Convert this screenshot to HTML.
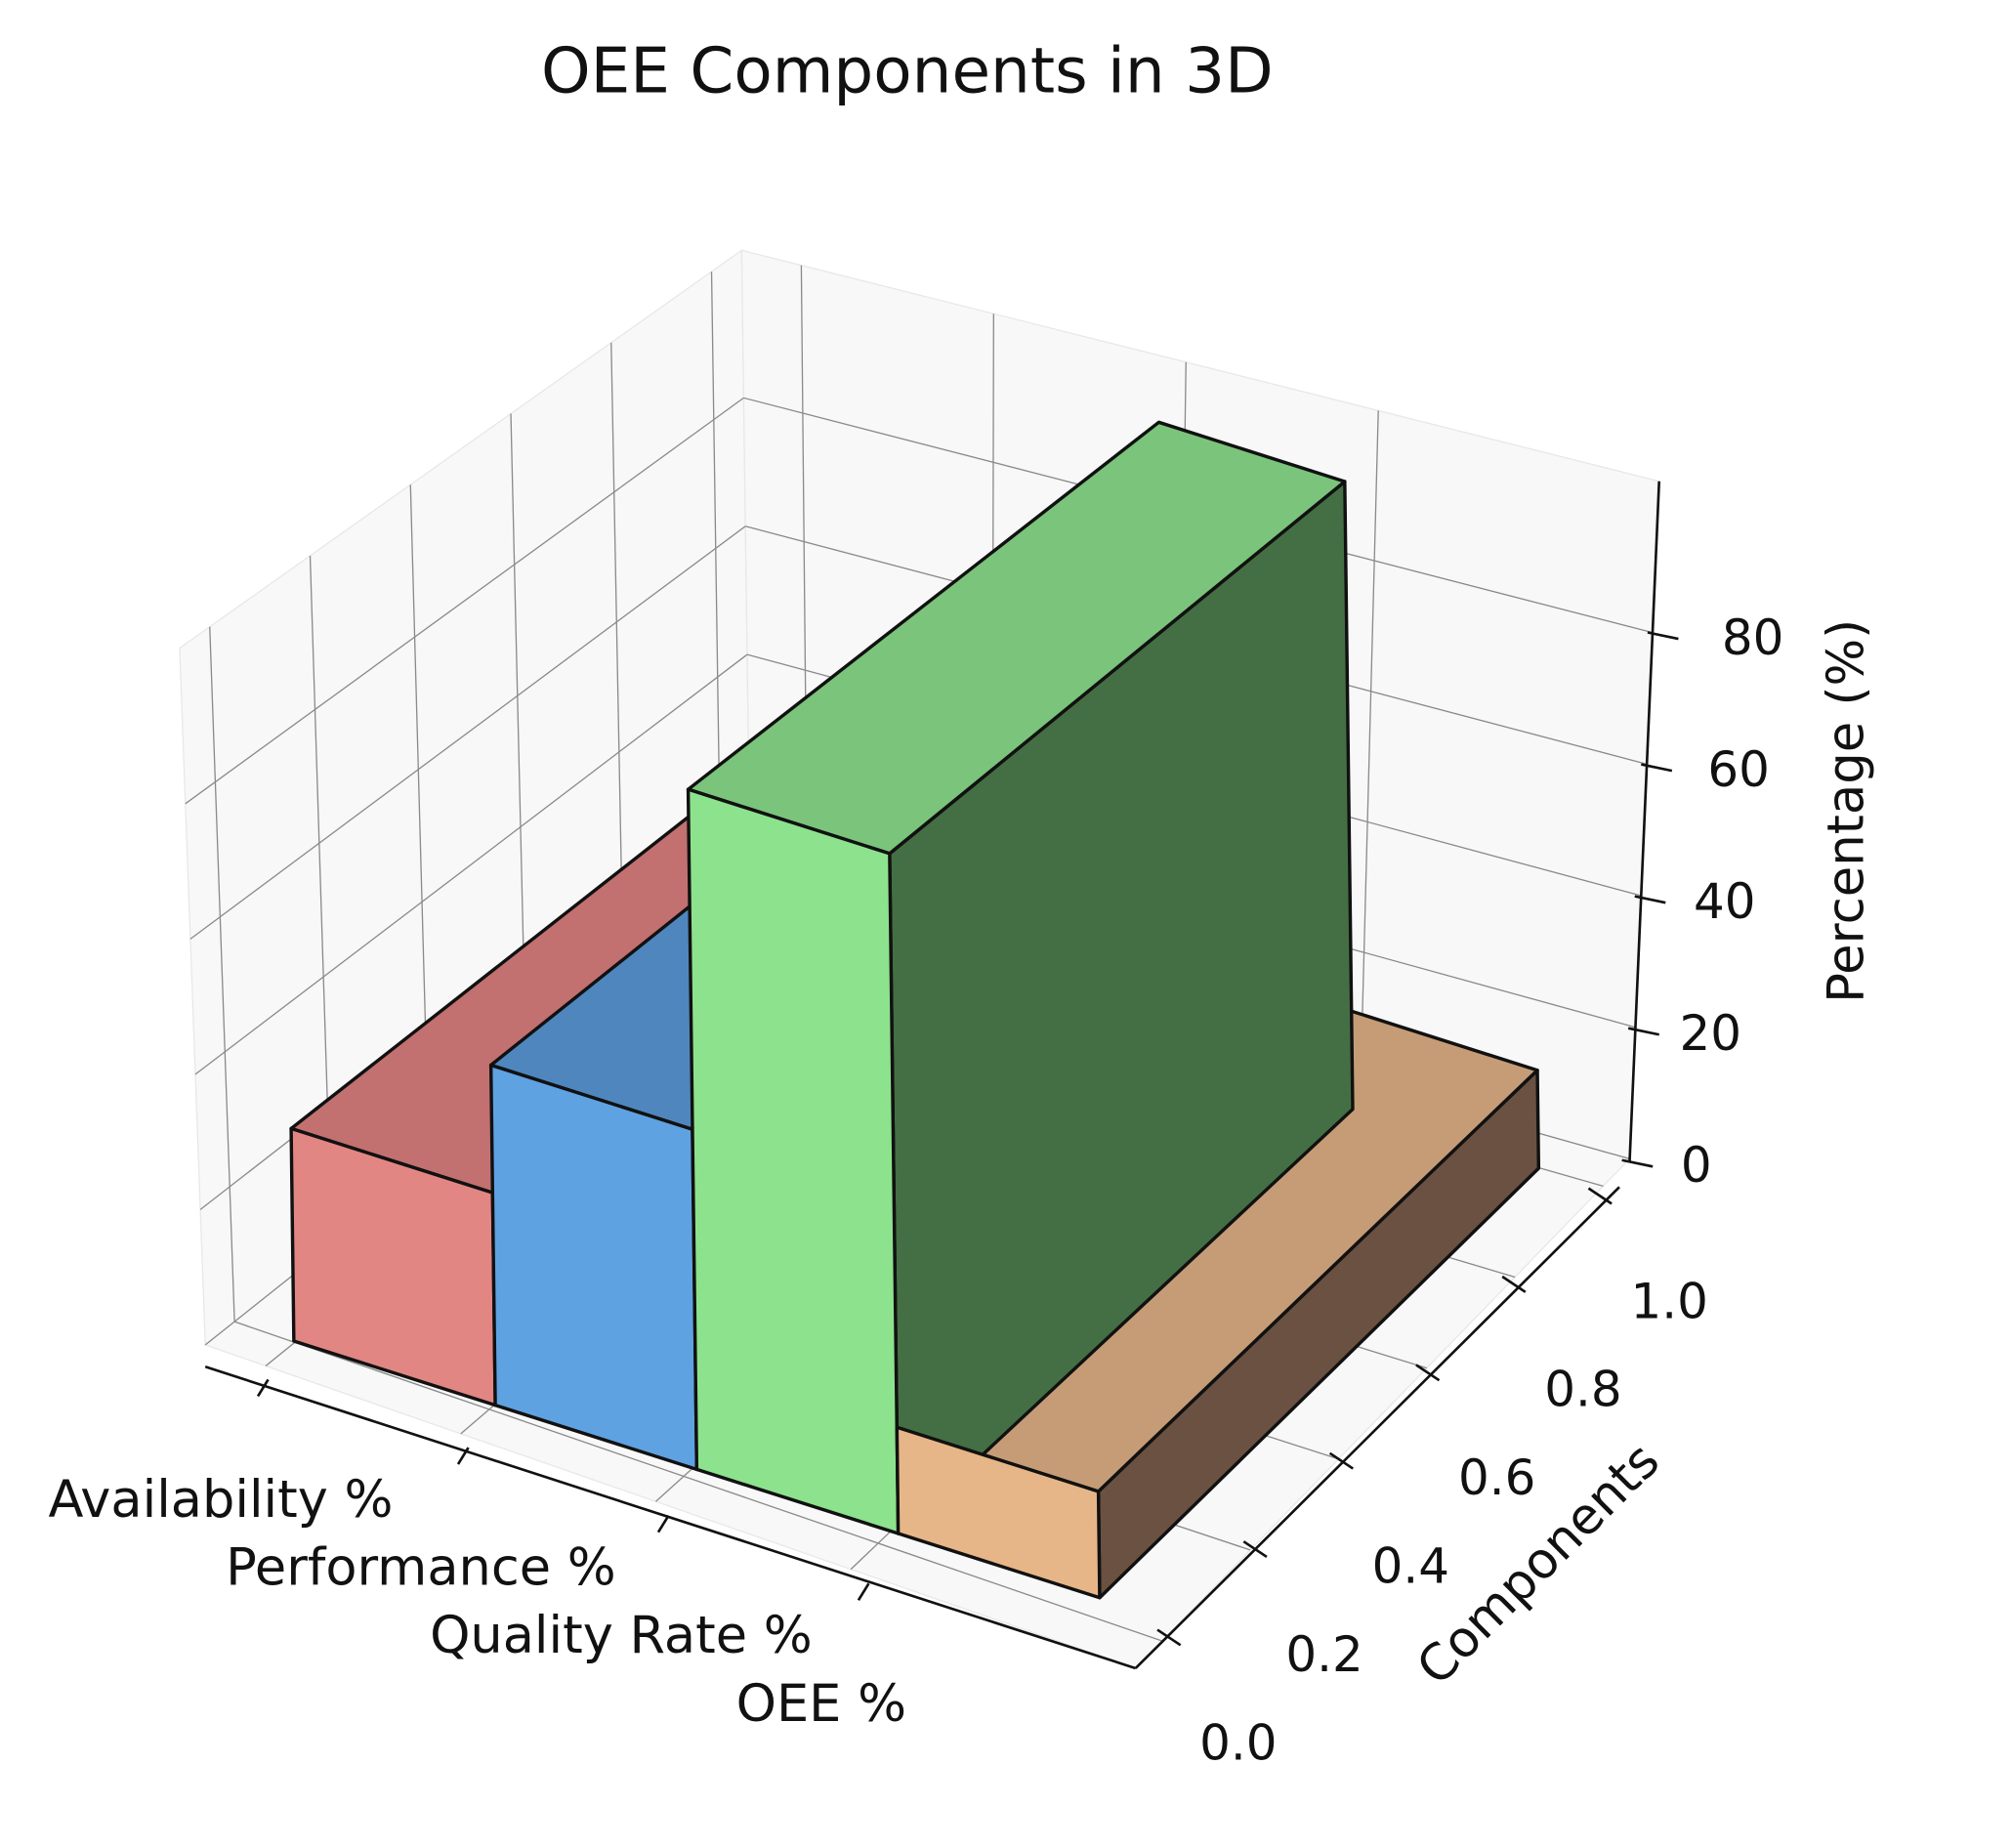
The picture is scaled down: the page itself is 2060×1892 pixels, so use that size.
<!DOCTYPE html>
<html><head><meta charset="utf-8">
<style>
html,body{margin:0;padding:0;background:#fff;}
svg{display:block;font-family:"DejaVu Sans","Liberation Sans",sans-serif;}
</style></head>
<body>
<svg id="chart" width="2060" height="1892" viewBox="0 0 1568 1440" xmlns="http://www.w3.org/2000/svg">
<text x="707" y="72" text-anchor="middle" font-size="49" fill="#111">OEE Components in 3D</text>
<g id="panes"></g>
<g id="grid"></g>
<g id="axes"></g>
<g id="bars"></g>
<text x="0" y="0" transform="translate(1452,632) rotate(-90)" text-anchor="middle" font-size="39" fill="#111">Percentage (%)</text>
<text x="0" y="0" transform="translate(1208,1228) rotate(-45)" text-anchor="middle" font-size="39" fill="#111">Components</text>
</svg>
<script>
const categories = ["Availability %", "Performance %", "Quality Rate %", "OEE %"];
const values = [30, 48, 96, 15];
const zTicks = [0, 20, 40, 60, 80];
const yTicks = [0.0, 0.2, 0.4, 0.6, 0.8, 1.0];
const frontColors = ["#e28684", "#5fa2e2", "#8de28d", "#e6b688"];
const topColors = ["#c27070", "#4f86be", "#7bc47b", "#c69c77"];
const sideColors = ["#8a4c4c", "#365c85", "#446f44", "#6a5141"];

const NS = "http://www.w3.org/2000/svg";
const VP = [5300, -3100];
function proj(x, y, z) {
  const fx = 229 + x * 157 - z * 0.07;
  const fy = 1045 + x * 50 - z * 5.52;
  const s = 0.077 * y;
  return [fx + (VP[0] - fx) * s, fy + (VP[1] - fy) * s];
}
function zAxis(z) { return [1270 + z * 0.25, 905 - z * 5.14]; }
function yAxis(y) { return [908 + y * 336, 1276 - y * 344]; }
function xAxis(i) { return [205 + i * 156, 1080 + i * 53]; }
function bil(q, u, v) {
  const a = q[0], b = q[1], c = q[2], d = q[3];
  return [(1-u)*(1-v)*a[0] + u*(1-v)*b[0] + u*v*c[0] + (1-u)*v*d[0],
          (1-u)*(1-v)*a[1] + u*(1-v)*b[1] + u*v*c[1] + (1-u)*v*d[1]];
}
function el(tag, attrs, parent) {
  const e = document.createElementNS(NS, tag);
  for (const k in attrs) e.setAttribute(k, attrs[k]);
  parent.appendChild(e);
  return e;
}
const pts = a => a.map(p => p[0].toFixed(1) + "," + p[1].toFixed(1)).join(" ");

const leftWall = [[160,1048],[585,710],[578,195],[140,505]];
const backWall = [[585,710],[1270,903],[1293,375],[578,195]];
const floor = [[160,1048],[885,1300],[1270,903],[585,710]];
const floorT = [floor[0], floor[3], floor[2], floor[1]];
const panes = document.getElementById("panes");
[["left-pane",leftWall],["back-pane",backWall],["floor-pane",floor]].forEach(([n,q]) => {
  const p = el("polygon", {points: pts(q), fill: "#f8f8f8", stroke: "#e8e8e8", "stroke-width": 1}, panes);
  
  
});
const grid = document.getElementById("grid");
const ZMAX = 103, YMIN = -0.06, YMAX = 1.06, XMIN = -0.31, XMAX = 4.46;
function gl(a, b, n) {
  const l = el("line", {x1: a[0], y1: a[1], x2: b[0], y2: b[1], stroke: "#8a8a8a", "stroke-width": 1}, grid);
  
  
}
zTicks.forEach(z => {
  const v = z / ZMAX;
  gl(bil(leftWall, 0, v), bil(leftWall, 1, v), "left-grid-z");
  gl(bil(backWall, 0, v), bil(backWall, 1, v), "back-grid-z");
});
yTicks.forEach(y => {
  const u = (y - YMIN) / (YMAX - YMIN);
  gl(bil(leftWall, u, 0), bil(leftWall, u, 1), "left-grid-y");
  gl(bil(floorT, u, 0), bil(floorT, u, 1), "floor-grid-y");
});
categories.forEach((c, i) => {
  const u = (i - XMIN) / (XMAX - XMIN);
  gl(bil(backWall, u, 0), bil(backWall, u, 1), "back-grid-x");
  gl(bil(floor, u, 0), bil(floor, u, 1), "floor-grid-x");
});

const axes = document.getElementById("axes");
function al(a, b, n, w) {
  const l = el("line", {x1: a[0], y1: a[1], x2: b[0], y2: b[1], stroke: "#111", "stroke-width": w || 2}, axes);
  
  
}
al([160,1065],[885,1300],"x-axis-line");
al([885,1300],[1262,925],"y-axis-line");
al([1270,905],[1293,375],"z-axis-line");
categories.forEach((c, i) => {
  const p = xAxis(i);
  al([p[0]+4, p[1]-5], [p[0]-4, p[1]+8], "x-tick");
  const t = el("text", {x: p[0] - 33, y: p[1] + 102, "text-anchor": "middle", "font-size": 40, fill: "#111"}, axes);
  
  
  t.textContent = c;
});
yTicks.forEach(y => {
  const p = yAxis(y);
  al([p[0]-6, p[1]-6], [p[0]+12, p[1]+6], "y-tick");
  const t = el("text", {x: p[0] + 57, y: p[1] + 95, "text-anchor": "middle", "font-size": 38, fill: "#111"}, axes);
  
  
  t.textContent = y.toFixed(1);
});
zTicks.forEach(z => {
  const p = zAxis(z);
  al([p[0]-6, p[1]-1], [p[0]+18, p[1]+4], "z-tick");
  const t = el("text", {x: p[0] + 52 + z * 0.3, y: p[1] + 16, "text-anchor": "middle", "font-size": 38, fill: "#111"}, axes);
  
  
  t.textContent = String(z);
});

// bars
const bars = document.getElementById("bars");
const st = {stroke: "#111", "stroke-width": 2.6, "stroke-linejoin": "round"};
const n = values.length;
function slug(i) { return categories[i].toLowerCase().replace(/[^a-z]+/g, '-').replace(/-$/, ''); }
function faceOf(i, kind) {
  const v = values[i], x0 = i, x1 = i + 1, y0 = 0, y1 = 1;
  if (kind === "top") return [proj(x0,y0,v), proj(x1,y0,v), proj(x1,y1,v), proj(x0,y1,v)];
  if (kind === "side") return [proj(x1,y0,0), proj(x1,y1,0), proj(x1,y1,v), proj(x1,y0,v)];
  return [proj(x0,y0,0), proj(x1,y0,0), proj(x1,y0,v), proj(x0,y0,v)];
}
function face(i, kind, parent) {
  const col = kind === "top" ? topColors[i] : kind === "side" ? sideColors[i] : frontColors[i];
  const p = el("polygon", Object.assign({points: pts(faceOf(i, kind)), fill: col}, st), parent);
  
  
}
function group(name) {
  const g = el("g", {}, bars);
  
  
  return g;
}
for (let i = 0; i < n - 2; i++) {
  const g = group('bar-' + slug(i));
  face(i, "side", g); face(i, "top", g); face(i, "front", g);
}
const gLast = group('bar-' + slug(n - 1));
face(n - 1, "side", gLast); face(n - 1, "top", gLast);
const gTall = group('bar-' + slug(n - 2));
face(n - 2, "side", gTall); face(n - 2, "top", gTall); face(n - 2, "front", gTall);
const gLastFront = group('bar-' + slug(n - 1) + '-front');
face(n - 1, "front", gLastFront);
</script>
</body></html>
